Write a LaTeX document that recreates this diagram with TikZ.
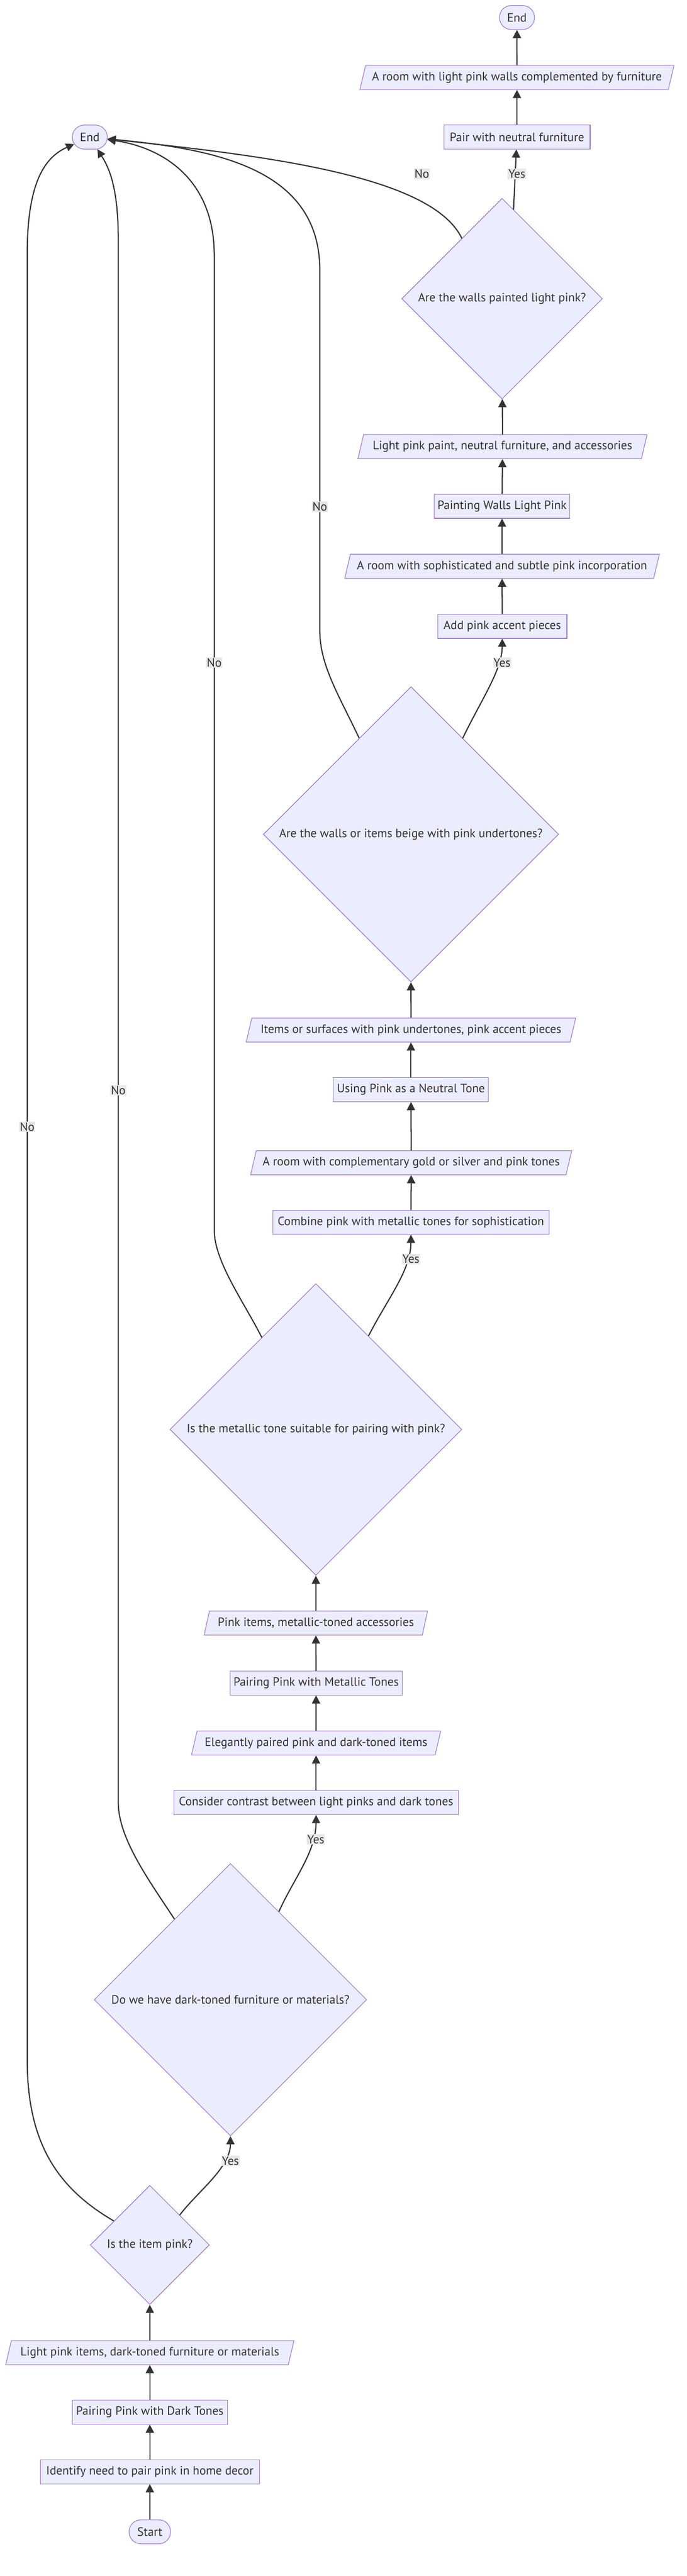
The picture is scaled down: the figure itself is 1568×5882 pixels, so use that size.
\documentclass[tikz,border=0pt]{standalone}
\usepackage{fontspec}
\setmainfont{PT Sans}
\usetikzlibrary{shapes.geometric,shapes.misc,arrows.meta,calc}
\definecolor{nodefill}{HTML}{ECECFF}
\definecolor{nodeline}{HTML}{9370DB}
\definecolor{ink}{HTML}{333333}
\definecolor{lblfill}{HTML}{E8E8E8}

\begin{document}
\begin{tikzpicture}[x=0.75pt, y=-0.75pt,
	every node/.style={font=\fontsize{20.7}{25}\selectfont, text=ink},
	box/.style={rectangle, draw=nodeline, fill=nodefill, line width=1pt, minimum height=55*0.75pt, minimum width=#1*0.75pt, inner sep=0pt},
	lean/.style={trapezium, trapezium left angle=63, trapezium right angle=117, trapezium stretches body, draw=nodeline, fill=nodefill, line width=1pt, minimum height=55*0.75pt, minimum width=#1*0.75pt, inner sep=0pt},
	decision/.style={diamond, aspect=1, draw=nodeline, fill=nodefill, line width=1pt, minimum size=#1*0.75pt, inner sep=0pt},
	terminal/.style={rounded rectangle, draw=nodeline, fill=nodefill, line width=1pt, minimum height=55*0.75pt, minimum width=#1*0.75pt, inner sep=0pt},
	flow/.style={draw=ink, line width=2pt, -{Triangle[length=14pt,width=14pt]}},
	lbl/.style={fill=lblfill, inner xsep=1pt, inner ysep=1.5pt}]
			%%%%% START %%%%%
			
			\useasboundingbox (0,0) rectangle (1568,5882);
			
			\node[terminal=80] (endTop) at (1180,40) {End};
			\node[terminal=80] (endLeft) at (205,313) {End};
			\node[terminal=95] (start) at (342,5781) {Start};
			
			\node[box=334] (pairNeutral) at (1180,313) {Pair with neutral furniture};
			\node[box=310] (paintWalls) at (1146,1156) {Painting Walls Light Pink};
			\node[box=295] (addAccent) at (1146.5,1430) {Add pink accent pieces};
			\node[box=354] (neutralTone) at (938,2488) {Using Pink as a Neutral Tone};
			\node[box=630] (combineMetal) at (938,2791) {Combine pink with metallic tones for sophistication};
			\node[box=393] (pairMetal) at (721.5,3843) {Pairing Pink with Metallic Tones};
			\node[box=649] (contrast) at (721.5,4116) {Consider contrast between light pinks and dark tones};
			\node[box=354] (pairDark) at (342,5508) {Pairing Pink with Dark Tones};
			\node[box=500] (identify) at (342,5644) {Identify need to pair pink in home decor};
			
			\node[lean=717] (roomFurniture) at (1180,177) {A room with light pink walls complemented by furniture};
			\node[lean=660] (paintSupplies) at (1147,1020) {Light pink paint, neutral furniture, and accessories};
			\node[lean=718] (roomSubtle) at (1146,1293) {A room with sophisticated and subtle pink incorporation};
			\node[lean=752] (undertoneItems) at (938,2352) {Items or surfaces with pink undertones, pink accent pieces};
			\node[lean=733] (roomMetal) at (938.5,2655) {A room with complementary gold or silver and pink tones};
			\node[lean=510] (metalItems) at (721,3706) {Pink items, metallic-toned accessories};
			\node[lean=569] (elegantItems) at (721.5,3980) {Elegantly paired pink and dark-toned items};
			\node[lean=658] (darkItems) at (342,5372) {Light pink items, dark-toned furniture or materials};
			
			\node[decision=458] (wallsPink) at (1146,682) {Are the walls painted light pink?};
			\node[decision=674] (beige) at (938,1905) {Are the walls or items beige with pink undertones?};
			\node[decision=666] (metalTone) at (721,3264) {Is the metallic tone suitable for pairing with pink?};
			\node[decision=622] (darkFurn) at (526,4566) {Do we have dark-toned furniture or materials?};
			\node[decision=272] (itemPink) at (342,5126) {Is the item pink?};
			
			% straight steps
			\draw[flow] (start) -- (identify);
			\draw[flow] (identify) -- (pairDark);
			\draw[flow] (pairDark) -- (darkItems);
			\draw[flow] (darkItems) -- (itemPink);
			\draw[flow] (contrast) -- (elegantItems);
			\draw[flow] (elegantItems) -- (pairMetal);
			\draw[flow] (pairMetal) -- (metalItems);
			\draw[flow] (metalItems) -- (metalTone);
			\draw[flow] (combineMetal) -- (roomMetal);
			\draw[flow] (roomMetal) -- (neutralTone);
			\draw[flow] (neutralTone) -- (undertoneItems);
			\draw[flow] (undertoneItems) -- (beige);
			\draw[flow] (addAccent) -- (roomSubtle);
			\draw[flow] (roomSubtle) -- (paintWalls);
			\draw[flow] (paintWalls) -- (paintSupplies);
			\draw[flow] (paintSupplies) -- (wallsPink);
			\draw[flow] (pairNeutral) -- (roomFurniture);
			\draw[flow] (roomFurniture) -- (endTop);
			
			% yes branches
			\draw[flow] ($(itemPink.north)!0.5!(itemPink.east)$) .. controls (450,5005) and (526,4950) .. (darkFurn.south);
			\draw[flow] ($(darkFurn.north)!0.355!(darkFurn.east)$) .. controls (670,4290) and (721,4230) .. (contrast.south);
			\draw[flow] ($(metalTone.north)!0.36!(metalTone.east)$) .. controls (885,2965) and (938,2900) .. (combineMetal.south);
			\draw[flow] ($(beige.north)!0.35!(beige.east)$) .. controls (1100,1595) and (1146,1530) .. (addAccent.south);
			\draw[flow] ($(wallsPink.north)!0.114!(wallsPink.east)$) -- (pairNeutral);
			
			% no branches
			\draw[flow] ($(wallsPink.north)!0.4!(wallsPink.west)$) .. controls (985,400) and (600,355) .. (endLeft);
			\draw[flow] ($(beige.north)!0.35!(beige.west)$) .. controls (775,1590) and (730,1520) .. (730,1440) -- (730,617) .. controls (730,380) and (480,340) .. (endLeft);
			\draw[flow] ($(metalTone.north)!0.37!(metalTone.west)$) .. controls (555,2970) and (489,2880) .. (489,2808) -- (489,583) .. controls (489,400) and (360,335) .. (endLeft);
			\draw[flow] ($(darkFurn.north)!0.41!(darkFurn.west)$) .. controls (345,4300) and (270,4200) .. (270,4116) -- (270,550) .. controls (270,430) and (250,385) .. (endLeft);
			\draw[flow] ($(itemPink.north)!0.6!(itemPink.west)$) .. controls (120,4990) and (62,4880) .. (62,4700) -- (62,583) .. controls (62,420) and (100,360) .. (endLeft);
			
			\node[lbl] (yesWalls) at (1180,397) {Yes};
			\node[lbl] (yesBeige) at (1146,1513) {Yes};
			\node[lbl] (yesMetal) at (938,2875) {Yes};
			\node[lbl] (yesDark) at (721,4200) {Yes};
			\node[lbl] (yesPink) at (526,4934) {Yes};
			\node[lbl] (noWalls) at (963,397) {No};
			\node[lbl] (noBeige) at (730,1157) {No};
			\node[lbl] (noMetal) at (489,1513) {No};
			\node[lbl] (noDark) at (270,2489) {No};
			\node[lbl] (noPink) at (62,2573) {No};
			
			%%%%% END %%%%%
\end{tikzpicture}
\end{document}
